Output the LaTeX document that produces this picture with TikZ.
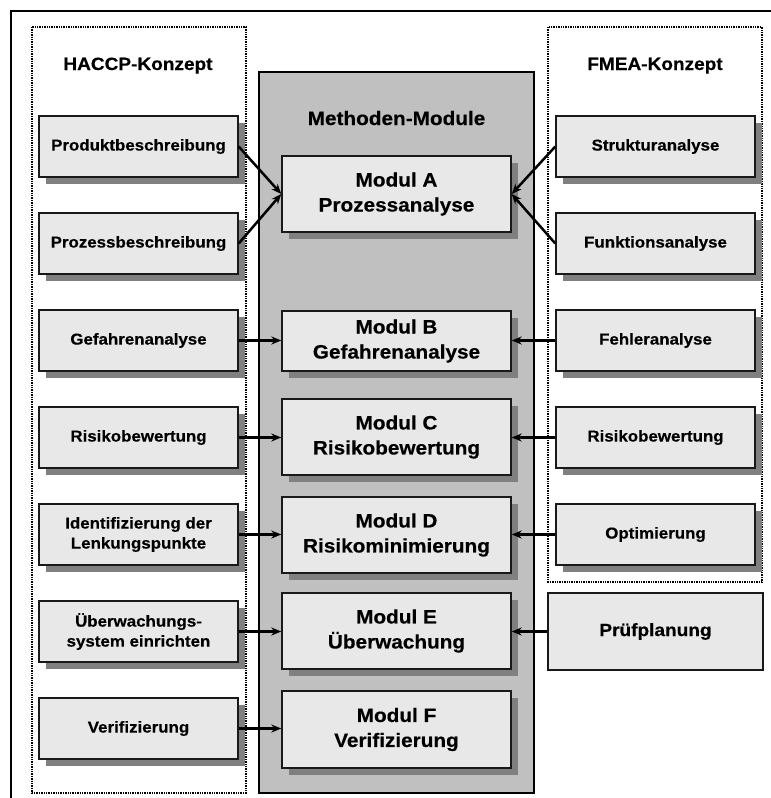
\documentclass[tikz,border=0pt]{standalone}
\usepackage{fontspec}
\setmainfont{Liberation Sans}[FakeStretch=1.07, FakeBold=0.4]
\usetikzlibrary{arrows.meta,shadows}
\definecolor{boxfill}{HTML}{E8E8E8}
\definecolor{panelfill}{HTML}{C0C0C0}
\definecolor{shadowgray}{HTML}{808080}
\begin{document}
\begin{tikzpicture}[x=1pt,y=-1pt,
  plainbox/.style={draw=black!90, line width=1.4pt, fill=boxfill, inner sep=0pt,
    minimum width=199pt, minimum height=61pt, align=center,
    font=\bfseries\fontsize{15.8}{20}\selectfont},
  sbox/.style={plainbox,
    drop shadow={shadow xshift=7pt, shadow yshift=-7pt, fill=shadowgray, opacity=1}},
  mbox/.style={sbox, minimum width=229pt, minimum height=76pt,
    font=\bfseries\fontsize{19.4}{25}\selectfont},
  head/.style={anchor=base, inner sep=0pt, font=\bfseries\fontsize{17.8}{21}\selectfont},
  dotbox/.style={draw=black, line width=2.4pt, dash pattern=on 1.4pt off 1pt},
  arr/.style={line width=2.5pt, -{Stealth[length=10pt,width=8pt]}}]
\useasboundingbox (0,0) rectangle (771,798);
% outer frame (top and left only)
\draw[line width=2.6pt] (11,798) -- (11,11) -- (771,11);
% central panel
\draw[line width=2.4pt, fill=panelfill] (259,72) rectangle (534,793);
% dotted groups
\draw[dotbox] (32,27) rectangle (246,793);
\draw[dotbox] (548,27) rectangle (762,582);
% headers
\node[head] (hh) at (138,70) {HACCP-Konzept};
\node[head] (hf) at (655,70) {FMEA-Konzept};
\node[head, font=\bfseries\fontsize{19.4}{23}\selectfont] (hm) at (396.5,125) {Methoden-Module};
% HACCP boxes
\node[sbox] (h1) at (138.5,146.5) {Produktbeschreibung};
\node[sbox] (h2) at (138.5,243.5) {Prozessbeschreibung};
\node[sbox] (h3) at (138.5,340.5) {Gefahrenanalyse};
\node[sbox] (h4) at (138.5,437.5) {Risikobewertung};
\node[sbox] (h5) at (138.5,534.5) {Identifizierung der\\Lenkungspunkte};
\node[sbox] (h6) at (138.5,631.5) {Überwachungs-\\system einrichten};
\node[sbox] (h7) at (138.5,728.5) {Verifizierung};
% FMEA boxes
\node[sbox] (f1) at (655.5,146.5) {Strukturanalyse};
\node[sbox] (f2) at (655.5,243.5) {Funktionsanalyse};
\node[sbox] (f3) at (655.5,340.5) {Fehleranalyse};
\node[sbox] (f4) at (655.5,437.5) {Risikobewertung};
\node[sbox] (f5) at (655.5,534.5) {Optimierung};
\node[plainbox, minimum width=215pt, minimum height=77pt,
  font=\bfseries\fontsize{17.8}{21}\selectfont] (pp) at (655.5,631.5) {Prüfplanung};
% modules
\node[mbox] (ma) at (396.5,194) {Modul A\\Prozessanalyse};
\node[mbox, minimum height=60pt] (mb) at (396.5,341) {Modul B\\Gefahrenanalyse};
\node[mbox] (mc) at (396.5,437) {Modul C\\Risikobewertung};
\node[mbox] (md) at (396.5,535) {Modul D\\Risikominimierung};
\node[mbox] (me) at (396.5,631) {Modul E\\Überwachung};
\node[mbox, minimum height=77pt] (mf) at (396.5,729.5) {Modul F\\Verifizierung};
% connectors
\draw[arr] (h1.east) -- (ma.west);
\draw[arr] (h2.east) -- (ma.west);
\draw[arr] (f1.west) -- (ma.east);
\draw[arr] (f2.west) -- (ma.east);
\draw[arr] (h3.east) -- (h3.east -| mb.west);
\draw[arr] (h4.east) -- (h4.east -| mc.west);
\draw[arr] (h5.east) -- (h5.east -| md.west);
\draw[arr] (h6.east) -- (h6.east -| me.west);
\draw[arr] (h7.east) -- (h7.east -| mf.west);
\draw[arr] (f3.west) -- (f3.west -| mb.east);
\draw[arr] (f4.west) -- (f4.west -| mc.east);
\draw[arr] (f5.west) -- (f5.west -| md.east);
\draw[arr] (pp.west) -- (pp.west -| me.east);
\end{tikzpicture}
\end{document}
